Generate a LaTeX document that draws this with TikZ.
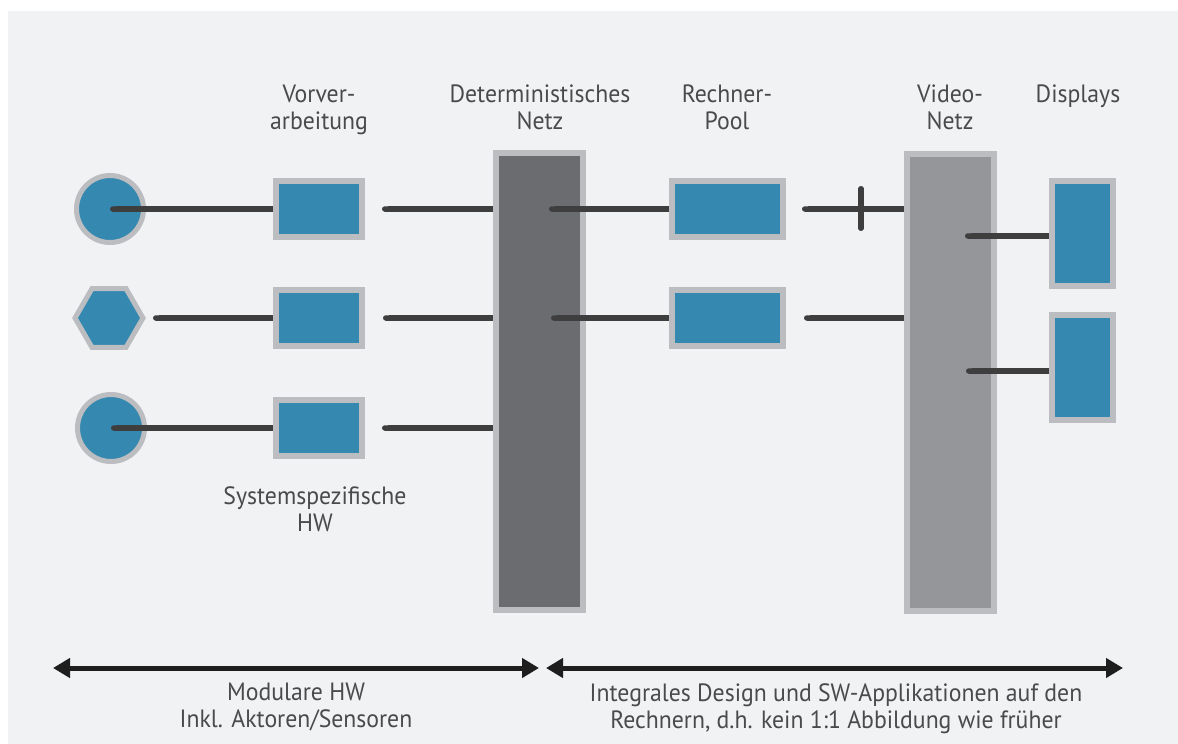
\documentclass[tikz,border=0pt]{standalone}
\usepackage{fontspec}
\setmainfont{PT Sans}[FakeStretch=0.95]
\usetikzlibrary{shapes.geometric,arrows.meta}
\definecolor{bg}{HTML}{F1F2F4}
\definecolor{blu}{HTML}{3588AF}
\definecolor{rim}{HTML}{BCBDC1}
\definecolor{wirec}{HTML}{3E3E3E}
\definecolor{dnet}{HTML}{6B6C70}
\definecolor{vnet}{HTML}{959699}
\definecolor{txt}{HTML}{4A4A4C}
\definecolor{arr}{HTML}{1E1E1E}
\begin{document}
\begin{tikzpicture}[x=1pt,y=-1pt,
  unit/.style={rectangle,draw=rim,fill=blu,line width=6pt,inner sep=0pt},
  prebox/.style={unit,minimum width=86pt,minimum height=56pt},
  poolbox/.style={unit,minimum width=111pt,minimum height=56pt},
  dispbox/.style={unit,minimum width=61pt,minimum height=105pt},
  bar/.style={rectangle,draw=rim,line width=6pt,inner sep=0pt,minimum width=87pt,minimum height=457pt},
  sensor/.style={circle,draw=rim,fill=blu,line width=5pt,inner sep=0pt,minimum size=67pt},
  hexa/.style={regular polygon,regular polygon sides=6,draw=rim,fill=blu,line width=5pt,inner sep=0pt,minimum size=68pt},
  wire/.style={draw=wirec,line width=5.5pt,{Round Cap[]}-},
  tick/.style={draw=wirec,line width=5.5pt,line cap=round},
  lbl/.style={text=txt,align=center,inner sep=0pt,anchor=north,font=\fontsize{25}{27}\selectfont},
  span/.style={draw=arr,line width=5pt,{Triangle[length=17pt,width=19pt]}-{Triangle[length=17pt,width=19pt]}}]
% background
\useasboundingbox (0,0) rectangle (1178,744);
\fill[white] (0,0) rectangle (1178,744);
\fill[bg] (8,11) rectangle (1178,744);
% sensors
\node[sensor] (c1) at (110,209) {};
\node[hexa] (h2) at (109,318) {};
\node[sensor] (c3) at (111,428) {};
% preprocessing
\node[prebox] (v1) at (319,209) {};
\node[prebox] (v2) at (319,318) {};
\node[prebox] (v3) at (319,428) {};
% networks
\node[bar,fill=dnet] (dn) at (539.5,381.5) {};
\node[bar,fill=vnet] (vn) at (950.5,382) {};
% pool
\node[poolbox] (r1) at (727.5,209) {};
\node[poolbox] (r2) at (727.5,318) {};
% displays
\node[dispbox] (d1) at (1082.5,233.5) {};
\node[dispbox] (d2) at (1082.5,367.5) {};
% free ends
\coordinate (hs) at (153,318);
\coordinate (a1) at (382,209);
\coordinate (a2) at (383,318);
\coordinate (a3) at (382,428);
\coordinate (b1) at (549,209);
\coordinate (b2) at (551,318);
\coordinate (e1) at (802,209);
\coordinate (e2) at (804,318);
\coordinate (t1) at (861,188.75);
\coordinate (t2) at (861,228.25);
\coordinate (f1) at (965,236);
\coordinate (f2) at (966,371);
\coordinate (L1) at (53,668);
\coordinate (L2) at (539,668);
\coordinate (R1) at (546,668);
\coordinate (R2) at (1123,668);
% wires
\draw[wire] (c1.center) -- (v1.west);
\draw[wire] (hs) -- (v2.west);
\draw[wire] (c3.center) -- (v3.west);
\draw[wire] (a1) -- (dn.west |- a1);
\draw[wire] (a2) -- (dn.west |- a2);
\draw[wire] (a3) -- (dn.west |- a3);
\draw[wire] (b1) -- (r1.west);
\draw[wire] (b2) -- (r2.west);
\draw[wire] (e1) -- (vn.west |- e1);
\draw[wire] (e2) -- (vn.west |- e2);
\draw[tick] (t1) -- (t2);
\draw[wire] (f1) -- (d1.west |- f1);
\draw[wire] (f2) -- (d2.west |- f2);
% spans
\draw[span] (L1) -- (L2);
\draw[span] (R1) -- (R2);
% labels
\node[lbl] (lv) at (319,85) {Vorver-\\arbeitung};
\node[lbl] (ld) at (540,85) {Deterministisches\\Netz};
\node[lbl] (lr) at (727,85) {Rechner-\\Pool};
\node[lbl] (lvn) at (950,85) {Video-\\Netz};
\node[lbl] (ldi) at (1078,85) {Displays};
\node[lbl] (ls) at (315,486) {Systemspezifische\\HW};
\node[lbl] (lm) at (296,683) {Modulare HW\\Inkl. Aktoren/Sensoren};
\node[lbl] (li) at (836,683) {Integrales Design und SW-Applikationen auf den\\Rechnern, d.h. kein 1:1 Abbildung wie früher};
\end{tikzpicture}
\end{document}
